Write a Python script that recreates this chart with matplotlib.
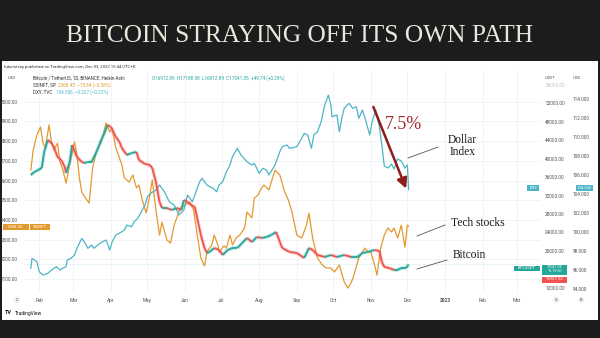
import matplotlib
matplotlib.use("Agg")
import matplotlib.pyplot as plt
import matplotlib.dates as mdates
from matplotlib.collections import LineCollection
from matplotlib.patches import Rectangle
from matplotlib.lines import Line2D
import numpy as np
import pandas as pd

plt.rcParams['font.family'] = ['Roboto', 'DejaVu Sans']

# ---- values, all 2022 (MM-DD) ----
# S5INFT (tech stocks), left axis
tech_dates = ["01-25", "01-27", "01-30", "02-02", "02-04", "02-06", "02-09", "02-11", "02-13", "02-16",
              "02-18", "02-20", "02-23", "02-26", "03-02", "03-04", "03-06", "03-08", "03-11", "03-14",
              "03-17", "03-20", "03-24", "03-28", "03-31", "04-02", "04-05", "04-10", "04-12", "04-16",
              "04-19", "04-22", "04-24", "04-27", "04-30", "05-03", "05-05", "05-08", "05-11", "05-13",
              "05-17", "05-20", "05-23", "05-26", "05-28", "06-01", "06-05", "06-08", "06-11", "06-14",
              "06-17", "06-19", "06-23", "06-25", "06-28", "06-29", "07-03", "07-05", "07-08", "07-10",
              "07-13", "07-16", "07-20", "07-22", "07-26", "07-28", "07-31", "08-03", "08-05", "08-09",
              "08-14", "08-18", "08-22", "08-25", "08-28", "09-01", "09-05", "09-09", "09-11", "09-14",
              "09-18", "09-22", "09-25", "09-29", "10-02", "10-06", "10-10", "10-13", "10-16", "10-18",
              "10-22", "10-27", "10-30", "11-01", "11-04", "11-06", "11-09", "11-12", "11-15", "11-18",
              "11-20", "11-23", "11-26", "11-29", "12-01", "12-02"]
tech_vals = [2653, 2755, 2831, 2872, 2790, 2765, 2882, 2796, 2755, 2790,
             2694, 2663, 2587, 2679, 2796, 2729, 2613, 2542, 2511, 2486,
             2669, 2745, 2796, 2892, 2846, 2866, 2765, 2679, 2613, 2592,
             2628, 2562, 2577, 2496, 2435, 2526, 2603, 2450, 2323, 2389,
             2298, 2283, 2374, 2425, 2460, 2476, 2491, 2450, 2323, 2207,
             2166, 2237, 2273, 2323, 2273, 2237, 2268, 2257, 2323, 2273,
             2308, 2323, 2359, 2440, 2410, 2511, 2526, 2562, 2577, 2552,
             2653, 2628, 2542, 2501, 2440, 2323, 2308, 2374, 2435, 2308,
             2207, 2171, 2156, 2156, 2136, 2171, 2085, 2054, 2085, 2120,
             2207, 2257, 2237, 2237, 2171, 2120, 2257, 2323, 2359, 2339,
             2359, 2308, 2374, 2262, 2374, 2368.43]

# BTC/USDT, USDT axis
btc_dates = ["01-25", "01-28", "01-31", "02-03", "02-05", "02-08", "02-11", "02-13", "02-16", "02-19",
             "02-22", "02-23", "02-26", "02-28", "03-04", "03-08", "03-10", "03-13", "03-16", "03-20",
             "03-24", "03-27", "03-29", "04-01", "04-05", "04-08", "04-10", "04-14", "04-18", "04-22",
             "04-24", "04-29", "05-03", "05-05", "05-08", "05-11", "05-13", "05-17", "05-21", "05-25",
             "05-29", "05-31", "06-03", "06-06", "06-09", "06-11", "06-14", "06-17", "06-19", "06-21",
             "06-25", "06-29", "07-02", "07-06", "07-10", "07-14", "07-18", "07-22", "07-26", "07-30",
             "08-03", "08-07", "08-11", "08-15", "08-18", "08-20", "08-26", "09-01", "09-07", "09-11",
             "09-14", "09-18", "09-24", "09-29", "10-04", "10-10", "10-16", "10-21", "10-25", "10-29",
             "11-04", "11-08", "11-10", "11-12", "11-16", "11-20", "11-23", "11-26", "11-30", "12-02"]
btc_vals = [36448, 37117, 37530, 37966, 41436, 44040, 43389, 42521, 40352, 39702,
            38183, 36882, 39268, 42955, 40352, 39268, 39051, 39268, 39268, 41436,
            44040, 45775, 47294, 46860, 44691, 43606, 42305, 40786, 41220, 41436,
            39702, 38834, 38617, 37966, 34930, 30591, 29290, 29290, 28856, 29290,
            28856, 31025, 30591, 29940, 29507, 27121, 23433, 20614, 19529, 19746,
            20614, 20180, 19095, 20180, 20614, 20614, 21699, 22783, 21916, 23000,
            22783, 23000, 23434, 24085, 21916, 20614, 19746, 19529, 18445, 20614,
            20180, 19095, 18661, 19095, 18661, 19095, 18661, 18661, 19529, 19746,
            20180, 19963, 17577, 16492, 16275, 15841, 15841, 16275, 16275, 17041.05]

# DXY (dollar index), USD axis
dxy_dates = ["01-25", "01-26", "01-30", "02-01", "02-04", "02-08", "02-11", "02-15", "02-18", "02-20",
             "02-23", "02-24", "02-27", "03-02", "03-04", "03-08", "03-10", "03-13", "03-16", "03-18",
             "03-21", "03-25", "03-28", "03-31", "04-02", "04-05", "04-10", "04-12", "04-14", "04-18",
             "04-20", "04-23", "04-26", "04-29", "05-01", "05-04", "05-08", "05-11", "05-15", "05-19",
             "05-23", "05-27", "05-31", "06-03", "06-07", "06-10", "06-13", "06-15", "06-19", "06-24",
             "06-27", "06-29", "07-02", "07-05", "07-08", "07-10", "07-14", "07-17", "07-22", "07-26",
             "07-28", "08-01", "08-04", "08-07", "08-09", "08-14", "08-18", "08-20", "08-24", "08-26",
             "09-01", "09-05", "09-07", "09-10", "09-13", "09-15", "09-18", "09-21", "09-24", "09-27",
             "09-29", "09-30", "10-04", "10-06", "10-08", "10-10", "10-14", "10-17", "10-20", "10-22",
             "10-25", "10-28", "10-31", "11-02", "11-05", "11-08", "11-10", "11-12", "11-15", "11-18",
             "11-20", "11-23", "11-26", "11-29", "12-01", "12-02"]
dxy_vals = [96.21, 97.26, 96.91, 95.85, 95.50, 95.68, 96.03, 96.38, 96.03, 96.21,
            96.38, 97.08, 97.26, 97.61, 98.32, 99.37, 99.01, 98.32, 98.66, 98.32,
            98.66, 99.01, 99.19, 98.14, 99.01, 99.72, 100.06, 100.24, 100.77, 100.59,
            101.12, 101.47, 102.17, 102.87, 103.75, 104.14, 104.45, 104.98, 104.27, 103.22,
            102.87, 101.82, 102.35, 103.93, 103.22, 104.27, 105.33, 105.68, 104.98, 104.63,
            104.27, 104.98, 105.33, 106.38, 107.08, 107.96, 108.84, 108.14, 107.43, 107.08,
            107.26, 106.21, 106.74, 106.56, 106.03, 107.08, 108.48, 109.01, 109.19, 108.84,
            109.01, 109.89, 110.42, 110.24, 108.84, 110.24, 110.59, 111.64, 113.40, 114.45,
            113.40, 112.17, 112.35, 110.59, 112.00, 113.05, 113.58, 113.05, 113.22, 112.00,
            112.87, 111.64, 110.24, 111.64, 112.87, 111.08, 109.19, 106.98, 106.77, 107.19,
            106.66, 107.72, 107.51, 106.77, 107.08, 104.506]

month_ticks = ["2022-02-01", "2022-03-01", "2022-04-01", "2022-05-01", "2022-06-01", "2022-07-01",
               "2022-08-01", "2022-09-01", "2022-10-01", "2022-11-01", "2022-12-01", "2023-01-01",
               "2023-02-01", "2023-03-01"]
month_labels = ["Feb", "Mar", "Apr", "May", "Jun", "Jul", "Aug", "Sep", "Oct", "Nov", "Dec",
                "2023", "Feb", "Mar"]
tech_ticks = [2100, 2200, 2300, 2400, 2500, 2600, 2700, 2800, 2900, 3000]
btc_ticks = [12000, 16000, 20000, 24000, 28000, 32000, 36000, 40000, 44000, 48000, 52000, 56000]
dxy_ticks = [94, 96, 98, 100, 102, 104, 106, 108, 110, 112, 114]


def to_x(days):
    return mdates.date2num(pd.to_datetime(["2022-" + d for d in days]))


ORANGE = '#e39a2d'
CYAN = '#4db5c6'
GREEN = '#26a69a'
RED = '#ef5350'
TXT = '#50535e'

W, H = 600, 338
fig = plt.figure(figsize=(6, 3.38), dpi=100, facecolor='#1c1c1c')


def fx(px):
    return px / W


def fy(py):
    return 1 - py / H


def ftext(px, py, s, **kw):
    return fig.text(fx(px), fy(py), s, **kw)


def tag(x0, x1, y0, y1, color, s, size=3.0):
    fig.patches.append(Rectangle((fx(x0), fy(y1)), fx(x1) - fx(x0), fy(y0) - fy(y1),
                                 transform=fig.transFigure, facecolor=color,
                                 edgecolor='none', zorder=5))
    ftext((x0 + x1) / 2, (y0 + y1) / 2, s, ha='center', va='center', fontsize=size,
          color='white', zorder=6, linespacing=1.0)


# white chart panel on the dark slide (behind the axes)
fig.patches.append(Rectangle((fx(2), fy(320)), fx(598) - fx(2), fy(61) - fy(320),
                             transform=fig.transFigure, facecolor='white',
                             edgecolor='none', zorder=-5))

ftext(300, 36.0, 'BITCOIN STRAYING OFF ITS OWN PATH', ha='center', va='center',
      family='Liberation Serif', fontsize=18.3, color='#e9e6dc')

ax = fig.add_axes([fx(24), fy(292), fx(541) - fx(24), fy(71) - fy(292)])
ax3 = ax.twinx()   # DXY
ax2 = ax.twinx()   # BTC on top

base = mdates.date2num(pd.Timestamp('2022-01-01'))
ax.set_xlim(base + 18.4, base + 444.0)
ax.set_ylim(2034, 3156)
ax2.set_ylim(11071, 59006)
ax3.set_ylim(93.72, 116.98)

for a in (ax, ax2, ax3):
    for sp in a.spines.values():
        sp.set_visible(False)

ax.set_facecolor('white')
ax.set_axisbelow(True)
ax.grid(True, color='#eff1f5', lw=0.6)

ax.set_xticks(mdates.date2num(pd.to_datetime(month_ticks)))
ax.set_xticklabels(month_labels)
for lab, name in zip(ax.get_xticklabels(), month_labels):
    if name == "2023":
        lab.set_fontweight('bold')
        lab.set_color('#222222')
ax.tick_params(axis='x', length=0, pad=4.2, labelsize=3.4, labelcolor=TXT)

ax.set_yticks(tech_ticks)
ax.set_yticklabels([f"{v:.2f}" for v in tech_ticks])
ax.tick_params(axis='y', length=0, pad=4.5, labelsize=3.4, labelcolor=TXT)

ax2.set_yticks(btc_ticks)
# 16000 sits under the live-price tag, as in the screenshot
ax2.set_yticklabels(["" if v == 16000 else f"{v:.2f}" for v in btc_ticks])
ax2.tick_params(axis='y', length=0, pad=3.0, labelsize=3.4, labelcolor=TXT)
ax2.get_yticklabels()[-1].set_alpha(0.35)

ax3.spines['right'].set_position(('outward', 20))
ax3.set_yticks(dxy_ticks)
ax3.set_yticklabels([f"{v:.3f}" for v in dxy_ticks])
ax3.tick_params(axis='y', length=0, pad=3.0, labelsize=3.4, labelcolor=TXT)

# series
ax.plot(to_x(tech_dates), tech_vals, color=ORANGE, lw=0.9)
ax3.plot(to_x(dxy_dates), dxy_vals, color=CYAN, lw=0.9)

# heikin ashi candles, drawn as up/down coloured segments with a faint wick band
bx = to_x(btc_dates)
by = np.array(btc_vals, dtype=float)
pts = np.column_stack([bx, by])
segs = np.stack([pts[:-1], pts[1:]], axis=1)
cols = np.where(np.diff(by) >= 0, GREEN, RED)
ax2.add_collection(LineCollection(segs, colors=cols, linewidths=2.8, alpha=0.22,
                                  capstyle='butt'))
ax2.add_collection(LineCollection(segs, colors=cols, linewidths=1.3, capstyle='butt'))
ax2.axhline(btc_vals[-1], color=GREEN, lw=0.5, alpha=0.3, ls=(0, (1, 1)))

# red arrow over the dollar index drop
ax3.annotate('', xy=(to_x(["11-30"])[0], 104.6), xytext=(to_x(["11-03"])[0], 113.2),
             arrowprops=dict(arrowstyle='-|>,head_length=0.6,head_width=0.3',
                             color='#8e1c1c', lw=1.8, shrinkA=0, shrinkB=0))
ftext(404, 124.5, '7.5%', ha='center', va='center', family='Liberation Serif',
      fontsize=13, color='#a02c2a')

# annotations
serif = dict(family='Liberation Serif', color='#1a1a1a', fontsize=8.3)
ftext(462.5, 146, 'Dollar\nIndex', ha='center', va='center', multialignment='center',
      linespacing=1.05, **serif)
ftext(477.5, 222.5, 'Tech stocks', ha='center', va='center', **serif)
ftext(469, 254.5, 'Bitcoin', ha='center', va='center', **serif)
for (x0, y0, x1, y1) in [(408, 158, 438, 147), (417, 236, 445, 225), (417, 269, 447, 260)]:
    fig.add_artist(Line2D([fx(x0), fx(x1)], [fy(y0), fy(y1)], transform=fig.transFigure,
                          color='#555555', lw=0.6))

# header and legend
ftext(4, 67, 'futuristsny published on TradingView.com, Dec 03, 2022 15:44 UTC+8',
      ha='left', va='center', fontsize=3.1, color='#333333')
ftext(8, 78, 'USD', ha='left', va='center', fontsize=3.2, color=TXT)
ftext(545, 78, 'USDT', ha='left', va='center', fontsize=3.2, color=TXT)
ftext(573, 78, 'USD', ha='left', va='center', fontsize=3.2, color=TXT)
ftext(33, 78, 'Bitcoin / TetherUS, 1D, BINANCE, Heikin Ashi', ha='left', va='center',
      fontsize=3.3, color='#333333')
ftext(152, 78, 'O16912.89  H17188.98  L16912.89  C17041.05  +49.74 (+0.29%)', ha='left',
      va='center', fontsize=3.3, color=GREEN)
ftext(33, 85, 'S5INFT, SP', ha='left', va='center', fontsize=3.3, color='#333333')
ftext(58, 85, '2368.43  \u221213.84 (\u22120.58%)', ha='left', va='center', fontsize=3.3,
      color=ORANGE)
ftext(33, 92.3, 'DXY, TVC', ha='left', va='center', fontsize=3.3, color='#333333')
ftext(56.5, 92.3, '104.506  \u22120.227 (\u22120.22%)', ha='left', va='center', fontsize=3.3,
      color=CYAN)

# price tags
tag(3, 28.5, 223.5, 229.5, ORANGE, '2368.43')
tag(30, 50, 223.5, 229.5, ORANGE, 'S5INFT')
tag(527, 539, 185, 191, CYAN, 'DXY')
tag(576, 593, 185, 191, CYAN, '104.506')
tag(514, 539.5, 265.5, 271, GREEN, 'BTCUSDT')
tag(542, 567, 264.5, 274.5, GREEN, '17041.05\n16:15:50', size=2.7)
tag(542, 567, 276.5, 282.5, RED, '16957.53')

# bottom bar
for (px, s) in [(17, 'Z'), (556, 'A'), (581, 'B')]:
    ftext(px, 300, s, ha='center', va='center', fontsize=3.0, color='#555555',
          bbox=dict(boxstyle='circle,pad=0.35', facecolor='#f0f2f5', edgecolor='none'))
ftext(5, 313, 'TV', ha='left', va='center', fontsize=4.0, fontweight='bold', color='#131722')
ftext(14.5, 313, 'TradingView', ha='left', va='center', fontsize=3.5, color='#131722')

fig.savefig('out.png', dpi=100, facecolor=fig.get_facecolor())
